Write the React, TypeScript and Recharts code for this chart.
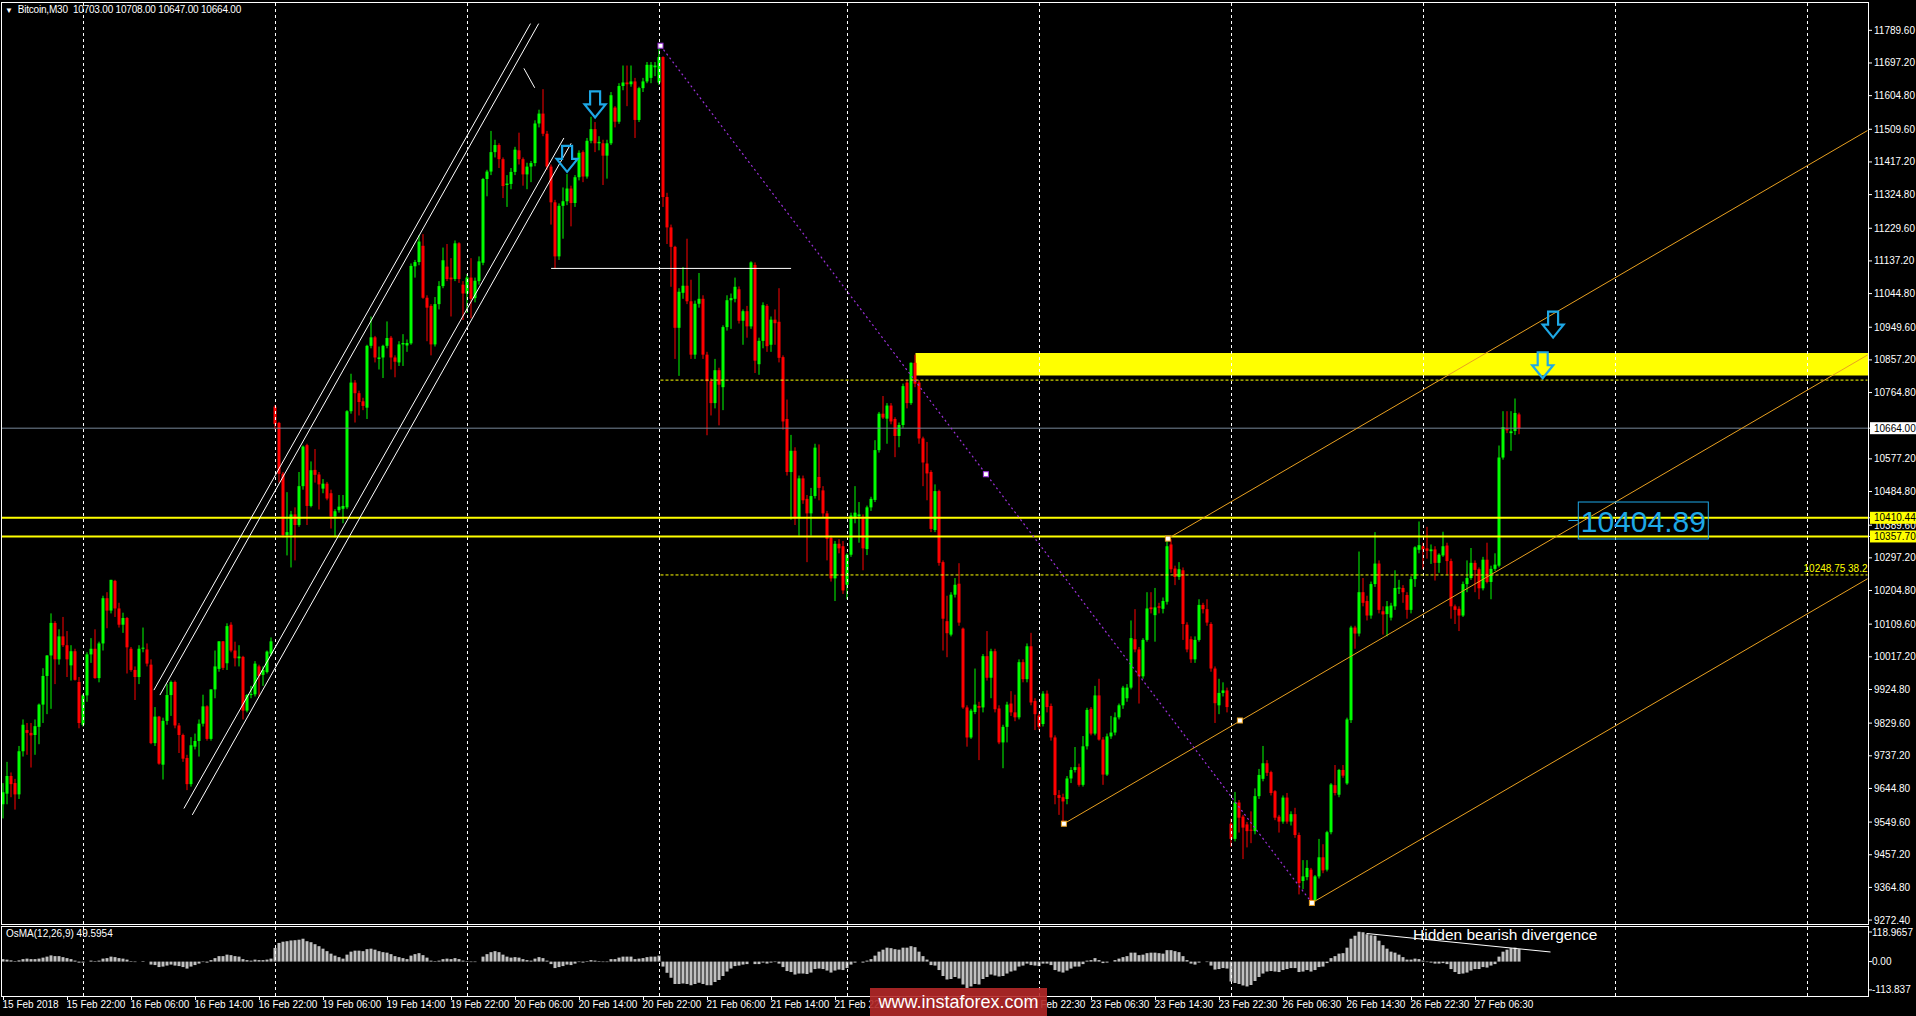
import React from 'react'
import {
  ComposedChart, Bar, XAxis, YAxis, ReferenceLine, ReferenceArea, ReferenceDot,
} from 'recharts'

// ─── Bitcoin M30 bars, 15 Feb 14:00 → 27 Feb 12:00 ─────────────────────────
const opens = [
  9600, 9630, 9680, 9660, 9628, 9750, 9810, 9802, 9796, 9819,
  9882, 9963, 10021, 10113, 10010, 10075, 10050, 9993, 10033, 9946,
  9825, 9908, 10024, 10040, 9957, 10055, 10183, 10148, 10232, 10154,
  10108, 10127, 10040, 9980, 9960, 10040, 10038, 9995, 9773, 9848,
  9712, 9836, 9909, 9946, 9823, 9796, 9731, 9657, 9763, 9779,
  9828, 9877, 9785, 9925, 9983, 10061, 9999, 10108, 10035, 10013,
  10017, 9865, 9909, 9911, 9990, 9966, 9974, 10026, 10725, 10679,
  10535, 10362, 10362, 10420, 10390, 10500, 10616, 10444, 10546, 10533,
  10493, 10507, 10480, 10414, 10432, 10436, 10440, 10712, 10793, 10763,
  10740, 10722, 10897, 10921, 10860, 10864, 10897, 10920, 10864, 10850,
  10901, 10898, 10904, 11122, 11134, 11180, 11033, 11010, 10901, 11015,
  11066, 11121, 11090, 11086, 11187, 11070, 11045, 11090, 11032, 11080,
  11132, 11369, 11390, 11445, 11465, 11425, 11352, 11355, 11389, 11450,
  11425, 11382, 11404, 11414, 11526, 11554, 11497, 11404, 11303, 11150,
  11293, 11306, 11342, 11301, 11374, 11445, 11376, 11477, 11510, 11470,
  11470, 11435, 11470, 11571, 11531, 11632, 11642, 11637, 11645, 11536,
  11626, 11645, 11655, 11685, 11642, 11714, 11318, 11232, 11177, 10948,
  11047, 11067, 11023, 10872, 11016, 11030, 10872, 10797, 10735, 10828,
  10780, 10950, 11026, 11030, 11057, 10968, 10995, 10952, 11126, 10845,
  10911, 11010, 10900, 10971, 10965, 10865, 10690, 10540, 10600, 10413,
  10522, 10464, 10423, 10472, 10526, 10488, 10423, 10354, 10239, 10337,
  10330, 10221, 10306, 10410, 10415, 10413, 10322, 10440, 10461, 10602,
  10705, 10691, 10728, 10690, 10642, 10673, 10793, 10735, 10849, 10793,
  10635, 10564, 10540, 10376, 10486, 10285, 10118, 10080, 10193, 10224,
  10097, 9874, 9789, 9861, 9878, 9874, 10019, 9958, 10033, 9871,
  9775, 9819, 9885, 9860, 9846, 10002, 9954, 10047, 9892, 9851,
  9827, 9913, 9878, 9789, 9626, 9620, 9615, 9673, 9697, 9705,
  9655, 9764, 9870, 9800, 9908, 9783, 9684, 9792, 9803, 9846,
  9880, 9900, 9930, 10067, 10038, 9962, 10065, 10157, 10135, 10160,
  10153, 10173, 10335, 10267, 10243, 10262, 10108, 10067, 10010, 10065,
  10164, 10152, 10110, 9984, 9880, 9915, 9922, 9545, 9502, 9605,
  9565, 9543, 9528, 9524, 9623, 9672, 9716, 9691, 9637, 9565,
  9551, 9619, 9551, 9572, 9513, 9383, 9394, 9415, 9329, 9396,
  9450, 9415, 9521, 9654, 9627, 9697, 9659, 9838, 10100, 10083,
  10200, 10175, 10134, 10223, 10281, 10146, 10138, 10128, 10160, 10210,
  10212, 10192, 10150, 10237, 10320, 10330, 10324, 10316, 10321, 10283,
  10304, 10332, 10288, 10160, 10153, 10134, 10223, 10240, 10283, 10265,
  10211, 10292, 10229, 10266, 10275, 10581, 10662, 10650, 10656, 10703,
]
const highs = [
  9660, 9720, 9690, 9672, 9765, 9840, 9830, 9830, 9840, 9885,
  9985, 10022, 10140, 10118, 10095, 10130, 10090, 10050, 10040, 9960,
  9912, 10030, 10070, 10095, 10060, 10190, 10200, 10235, 10235, 10170,
  10142, 10130, 10045, 9990, 10050, 10100, 10055, 10010, 9875, 9850,
  9845, 9940, 9950, 9950, 9830, 9800, 9740, 9790, 9800, 9840,
  9910, 9880, 9925, 10035, 10061, 10062, 10112, 10115, 10060, 10050,
  10020, 9912, 9935, 10005, 9995, 9990, 10035, 10072, 10730, 10682,
  10540, 10483, 10430, 10440, 10540, 10615, 10620, 10570, 10605, 10540,
  10520, 10512, 10490, 10435, 10475, 10475, 10715, 10818, 10800, 10770,
  10750, 10900, 10980, 10925, 10895, 10900, 10966, 10925, 10870, 10910,
  10930, 10915, 11130, 11140, 11210, 11213, 11040, 11015, 11035, 11080,
  11175, 11185, 11145, 11195, 11190, 11080, 11100, 11145, 11090, 11150,
  11372, 11395, 11505, 11480, 11470, 11430, 11380, 11400, 11460, 11500,
  11430, 11415, 11420, 11535, 11565, 11623, 11505, 11410, 11310, 11300,
  11345, 11383, 11350, 11380, 11450, 11450, 11485, 11545, 11530, 11490,
  11480, 11480, 11615, 11575, 11640, 11690, 11690, 11690, 11655, 11630,
  11655, 11700, 11700, 11700, 11746, 11716, 11330, 11240, 11180, 11060,
  11120, 11200, 11084, 11025, 11103, 11040, 10880, 10805, 10860, 10835,
  10955, 11040, 11045, 11090, 11065, 11000, 11010, 11136, 11133, 10920,
  11020, 11015, 10980, 11000, 11060, 10870, 10745, 10645, 10610, 10530,
  10530, 10475, 10495, 10620, 10618, 10500, 10430, 10360, 10345, 10350,
  10345, 10310, 10425, 10500, 10455, 10420, 10445, 10470, 10630, 10710,
  10755, 10735, 10735, 10695, 10680, 10790, 10800, 10850, 10872, 10800,
  10640, 10625, 10545, 10505, 10490, 10290, 10190, 10200, 10240, 10282,
  10100, 9880, 9870, 9984, 9890, 10025, 10090, 10040, 10040, 9880,
  9825, 9890, 9920, 9910, 10010, 10010, 10055, 10085, 9900, 9860,
  9920, 9922, 9885, 9795, 9640, 9630, 9680, 9705, 9762, 9715,
  9793, 9873, 9875, 9935, 9955, 9790, 9800, 9850, 9860, 9885,
  9935, 9940, 10120, 10152, 10045, 10070, 10200, 10200, 10212, 10170,
  10185, 10352, 10350, 10275, 10285, 10270, 10115, 10075, 10075, 10180,
  10170, 10180, 10115, 9990, 9955, 9945, 9930, 9560, 9635, 9612,
  9570, 9550, 9580, 9645, 9700, 9765, 9725, 9695, 9640, 9570,
  9625, 9632, 9580, 9590, 9520, 9442, 9442, 9420, 9400, 9502,
  9487, 9525, 9660, 9711, 9700, 9711, 9845, 10105, 10105, 10315,
  10240, 10190, 10230, 10370, 10290, 10160, 10175, 10170, 10262, 10235,
  10220, 10200, 10245, 10330, 10400, 10340, 10385, 10335, 10330, 10310,
  10371, 10340, 10295, 10165, 10160, 10230, 10290, 10325, 10290, 10270,
  10300, 10340, 10275, 10310, 10615, 10712, 10712, 10712, 10748, 10708,
]
const lows = [
  9560, 9600, 9620, 9585, 9615, 9735, 9740, 9704, 9740, 9770,
  9830, 9855, 9870, 9940, 9995, 10045, 9960, 9950, 9950, 9815,
  9820, 9890, 10000, 9955, 9945, 10035, 10098, 10140, 10130, 10100,
  10085, 9970, 9975, 9895, 9940, 10030, 9990, 9770, 9765, 9712,
  9670, 9825, 9850, 9815, 9745, 9720, 9640, 9650, 9755, 9735,
  9820, 9780, 9780, 9900, 9975, 9980, 9980, 10030, 9990, 9990,
  9840, 9860, 9900, 9905, 9905, 9935, 9970, 10020, 10660, 10510,
  10355, 10304, 10270, 10290, 10385, 10490, 10390, 10440, 10510, 10434,
  10480, 10460, 10380, 10355, 10425, 10395, 10435, 10705, 10680, 10700,
  10715, 10690, 10890, 10850, 10830, 10806, 10890, 10830, 10808, 10840,
  10840, 10880, 10900, 11090, 11125, 11030, 10910, 10870, 10895, 11000,
  11060, 11080, 10980, 11080, 11075, 10970, 10990, 10975, 11020, 11070,
  11125, 11320, 11380, 11430, 11400, 11315, 11290, 11340, 11380, 11410,
  11350, 11340, 11360, 11405, 11515, 11490, 11395, 11240, 11115, 11140,
  11200, 11295, 11235, 11290, 11365, 11360, 11370, 11470, 11445, 11450,
  11352, 11370, 11465, 11515, 11525, 11620, 11575, 11630, 11485, 11530,
  11615, 11640, 11640, 11660, 11635, 11290, 11185, 11064, 10860, 10812,
  11030, 11015, 10860, 10860, 11005, 10860, 10644, 10700, 10720, 10672,
  10715, 10940, 10945, 11020, 10960, 10900, 10920, 10945, 10820, 10815,
  10890, 10880, 10880, 10900, 10850, 10660, 10530, 10405, 10390, 10360,
  10450, 10285, 10360, 10465, 10460, 10410, 10290, 10230, 10175, 10310,
  10195, 10180, 10300, 10395, 10340, 10262, 10305, 10430, 10455, 10595,
  10690, 10620, 10675, 10582, 10610, 10665, 10720, 10730, 10780, 10620,
  10500, 10460, 10370, 10370, 10275, 10035, 10016, 10075, 10185, 10105,
  9870, 9763, 9785, 9855, 9725, 9860, 9950, 9900, 9860, 9770,
  9702, 9775, 9850, 9835, 9840, 9945, 9945, 9880, 9810, 9810,
  9820, 9860, 9780, 9600, 9570, 9545, 9600, 9660, 9690, 9650,
  9650, 9755, 9795, 9795, 9780, 9655, 9680, 9785, 9795, 9840,
  9870, 9890, 9925, 10030, 9885, 9955, 10060, 10140, 10060, 10140,
  10140, 10165, 10255, 10220, 10235, 10065, 10030, 10000, 10000, 10060,
  10140, 10105, 9975, 9830, 9855, 9905, 9860, 9480, 9495, 9520,
  9445, 9478, 9490, 9515, 9615, 9665, 9680, 9625, 9555, 9520,
  9545, 9545, 9540, 9505, 9345, 9360, 9385, 9321, 9325, 9390,
  9405, 9410, 9515, 9625, 9620, 9675, 9655, 9830, 10040, 10075,
  10160, 10120, 10125, 10215, 10140, 10080, 10075, 10120, 10150, 10195,
  10170, 10125, 10140, 10215, 10310, 10265, 10295, 10280, 10233, 10255,
  10300, 10250, 10125, 10110, 10090, 10130, 10200, 10235, 10200, 10180,
  10205, 10225, 10180, 10260, 10270, 10575, 10650, 10600, 10645, 10647,
]
const closes = [
  9634, 9680, 9657, 9628, 9750, 9825, 9802, 9795, 9821, 9882,
  9963, 10021, 10113, 10010, 10075, 10050, 10010, 10033, 9952, 9830,
  9908, 10024, 10040, 9957, 10055, 10183, 10148, 10235, 10154, 10108,
  10127, 10044, 9980, 9960, 10040, 10043, 9998, 9773, 9848, 9715,
  9836, 9909, 9946, 9823, 9796, 9729, 9657, 9767, 9779, 9828,
  9877, 9785, 9925, 9990, 10061, 9986, 10104, 10035, 10013, 10018,
  9865, 9909, 9912, 9998, 9963, 9980, 10032, 10061, 10676, 10535,
  10362, 10370, 10420, 10390, 10500, 10612, 10444, 10545, 10532, 10505,
  10507, 10465, 10414, 10429, 10442, 10444, 10712, 10793, 10763, 10738,
  10727, 10897, 10921, 10864, 10864, 10897, 10919, 10864, 10852, 10901,
  10905, 10905, 11123, 11134, 11192, 11033, 11005, 10901, 11015, 11066,
  11139, 11086, 11085, 11187, 11086, 11045, 11090, 11030, 11081, 11136,
  11369, 11390, 11445, 11465, 11425, 11349, 11356, 11389, 11452, 11425,
  11382, 11404, 11414, 11526, 11554, 11497, 11404, 11303, 11150, 11293,
  11306, 11342, 11301, 11374, 11443, 11376, 11477, 11510, 11470, 11474,
  11435, 11470, 11606, 11531, 11632, 11642, 11637, 11645, 11536, 11626,
  11645, 11692, 11692, 11690, 11714, 11318, 11232, 11177, 10948, 11050,
  11067, 11023, 10872, 11016, 11030, 10872, 10797, 10735, 10828, 10787,
  10950, 11026, 11032, 11064, 10968, 10995, 10952, 11133, 10855, 10911,
  11012, 10896, 10971, 10961, 10863, 10683, 10540, 10600, 10413, 10522,
  10460, 10423, 10472, 10609, 10495, 10423, 10351, 10239, 10337, 10324,
  10205, 10306, 10417, 10425, 10420, 10324, 10440, 10464, 10602, 10705,
  10694, 10728, 10683, 10642, 10673, 10783, 10735, 10849, 10790, 10635,
  10567, 10536, 10379, 10486, 10283, 10125, 10084, 10193, 10221, 10114,
  9874, 9789, 9865, 9882, 9873, 10019, 9958, 10033, 9869, 9775,
  9819, 9882, 9860, 9846, 10002, 9954, 10047, 9888, 9855, 9819,
  9913, 9875, 9789, 9626, 9618, 9608, 9673, 9697, 9705, 9655,
  9764, 9867, 9800, 9908, 9783, 9684, 9792, 9803, 9846, 9880,
  9930, 9930, 10070, 10038, 9962, 10065, 10154, 10152, 10157, 10156,
  10175, 10330, 10265, 10243, 10265, 10110, 10038, 10010, 10065, 10164,
  10152, 10114, 9984, 9886, 9915, 9922, 9875, 9502, 9605, 9562,
  9534, 9524, 9526, 9623, 9683, 9716, 9689, 9632, 9562, 9551,
  9619, 9551, 9572, 9513, 9377, 9396, 9420, 9329, 9396, 9450,
  9413, 9521, 9656, 9632, 9697, 9681, 9840, 10100, 10083, 10200,
  10170, 10134, 10223, 10281, 10150, 10137, 10160, 10162, 10212, 10213,
  10200, 10150, 10237, 10327, 10333, 10321, 10317, 10321, 10283, 10306,
  10330, 10288, 10160, 10150, 10134, 10223, 10240, 10283, 10263, 10211,
  10292, 10229, 10266, 10278, 10581, 10667, 10658, 10655, 10707, 10664,
]
// OsMA(12,26,9) histogram, one value per bar
const osmaValues = [
  10, 8, 5, 2, 5, 10, 12, 10, 10, 12,
  16, 20, 25, 22, 22, 18, 14, 10, 4, -4,
  -4, 0, 4, 2, 4, 12, 14, 20, 18, 14,
  12, 8, 2, -2, 0, 2, 0, -12, -14, -22,
  -20, -16, -12, -16, -18, -22, -28, -20, -14, -8,
  -2, -4, 6, 14, 22, 22, 28, 26, 22, 20,
  10, 6, 4, 8, 6, 6, 8, 12, 55, 75,
  80, 82, 85, 86, 88, 92, 82, 78, 70, 62,
  52, 42, 32, 24, 18, 12, 28, 40, 44, 44,
  42, 50, 52, 48, 42, 38, 36, 30, 22, 18,
  14, 10, 24, 30, 34, 26, 16, 4, 2, 4,
  10, 12, 10, 14, 10, 4, 2, -2, -2, 0,
  20, 30, 38, 42, 38, 28, 20, 16, 18, 16,
  10, 6, 4, 12, 18, 14, 4, -10, -26, -22,
  -18, -12, -14, -8, -2, -4, 2, 6, 4, 2,
  -2, -2, 10, 10, 16, 20, 20, 20, 10, 12,
  14, 18, 20, 20, 24, -20, -45, -65, -90, -90,
  -88, -90, -95, -90, -85, -90, -95, -95, -82, -74,
  -58, -40, -28, -18, -16, -12, -10, 0, -10, -10,
  -4, -8, -4, -2, -8, -22, -38, -42, -52, -48,
  -48, -50, -44, -30, -28, -30, -36, -44, -36, -32,
  -34, -26, -12, -4, 0, -4, 4, 10, 24, 40,
  48, 56, 54, 50, 48, 56, 56, 62, 58, 40,
  22, 8, -14, -16, -34, -58, -72, -70, -62, -68,
  -92, -106, -100, -90, -92, -70, -62, -52, -56, -60,
  -58, -48, -40, -36, -20, -16, -8, -14, -16, -18,
  -8, -8, -14, -34, -40, -44, -36, -28, -20, -20,
  -10, 4, 6, 14, 6, -6, -4, 0, 6, 12,
  18, 22, 36, 36, 26, 28, 34, 36, 36, 34,
  32, 46, 46, 42, 38, 22, 6, -8, -12, -4,
  0, -2, -16, -32, -30, -26, -28, -80, -86, -90,
  -96, -100, -94, -78, -62, -48, -40, -38, -40, -42,
  -34, -30, -26, -26, -42, -40, -34, -40, -34, -22,
  -20, -6, 14, 22, 32, 34, 56, 92, 104, 120,
  118, 110, 106, 104, 84, 66, 52, 40, 36, 28,
  18, 8, 8, 12, 10, 4, -2, -4, -8, -8,
  -6, -10, -30, -42, -50, -48, -44, -36, -30, -30,
  -22, -24, -16, -10, 20, 40, 48, 54, 56, 50,
]

const dateTicks = [0, 16, 32, 48, 64, 80, 96, 112, 128, 144, 160, 176, 192, 208, 224, 240, 256, 272, 288, 304, 320, 336, 352, 368]
// the two labels under the watermark are not readable in the picture, so left blank
const dateLabels = [
  '15 Feb 2018', '15 Feb 22:00', '16 Feb 06:00', '16 Feb 14:00', '16 Feb 22:00', '19 Feb 06:00',
  '19 Feb 14:00', '19 Feb 22:00', '20 Feb 06:00', '20 Feb 14:00', '20 Feb 22:00', '21 Feb 06:00',
  '21 Feb 14:00', '21 Feb 22:30', '', '', '22 Feb 22:30', '23 Feb 06:30',
  '23 Feb 14:30', '23 Feb 22:30', '26 Feb 06:30', '26 Feb 14:30', '26 Feb 22:30', '27 Feb 06:30',
]
// 10389.60 first so the two yellow boxes are painted over it
const priceTicks = [
  10389.6, 11789.6, 11697.2, 11604.8, 11509.6, 11417.2, 11324.8, 11229.6, 11137.2, 11044.8,
  10949.6, 10857.2, 10764.8, 10577.2, 10484.8, 10297.2, 10204.8, 10109.6, 10017.2,
  9924.8, 9829.6, 9737.2, 9644.8, 9549.6, 9457.2, 9364.8, 9272.4, 10664, 10410.44, 10357.7,
]
const osmaTicks = [118.9657, 0, -113.837]
const osmaTickLabels = ['118.9657', '0.00', '-113.837']
const gridBars = [20, 68, 116, 164, 211, 259, 307, 355, 403, 451]

// drawn objects, in (bar, price)
const channelLines = [
  [[37.6, 9923], [131.75, 11808.6]],
  [[39.1, 9909], [133.8, 11808.6]],
  [[45.1, 9588], [140.1, 11485]],
  [[47.2, 9570], [141.9, 11470]],
  [[130.1, 11682], [132.8, 11627]],
  [[136.9, 11116], [196.9, 11116]],
]
const pitchforkLines = [
  [[291.1, 10351.6], [466, 11506]],
  [[265.1, 9545], [466, 10871]],
  [[327.1, 9321], [466, 10238]],
]
const pitchforkPoints = [[265.1, 9545], [291.1, 10351.6], [309.1, 9837], [327.1, 9321]]
const trendLine = [[164.25, 11746], [327.1, 9321]]
const trendPoints = [[164.25, 11746], [245.6, 10533.8]]
const arrows = [[147.9, 11580], [140.9, 11426], [387.4, 10957], [384.8, 10842]]
const fibLevels = [10800, 10248.75]
const zoneBox = { x1: 228, y1: 10813, y2: 10877 }
const levelLines = [10410.44, 10357.7]
const bidPrice = 10664
const bigLabel = { bar: 393.7, price: 10402.8, text: '10404.89' }
const divergence = [[340.75, 113], [386.75, 38.6]]

const X_DOMAIN: [number, number] = [-0.375, 466.125]
const Y_DOMAIN: [number, number] = [9261.3, 11869.7]
const OSMA_DOMAIN: [number, number] = [-138.3, 139.1]

const BULL = '#00ff00'
const BEAR = '#ff0000'
const ORANGE = '#e8a020'
const CYAN = '#1ea8e6'
const FONT = '"Liberation Sans", Arial, sans-serif'

const rows = opens.map((o, i) => ({
  i, o, h: highs[i], l: lows[i], c: closes[i],
  range: [lows[i], highs[i]],
  osma: osmaValues[i],
}))

// ─── Candle shape ────────────────────────────────────────────────────────────
function Candle(props: any) {
  const { x, y, width, height, payload } = props
  if (!payload) return null
  const { o, h, l, c } = payload
  const top = Math.min(y, y + height)
  const span = Math.abs(height)
  const k = h > l ? span / (h - l) : 0
  const color = c >= o ? BULL : BEAR
  const bodyTop = top + (h - Math.max(o, c)) * k
  const bodyH = Math.max(1, Math.abs(o - c) * k)
  const cx = x + width / 2
  return (
    <g>
      <line x1={cx} x2={cx} y1={top} y2={top + span} stroke={color} strokeWidth={1} />
      <rect x={x} y={bodyTop} width={width} height={bodyH} fill={color} />
    </g>
  )
}

function PriceTick({ x, y, payload }: any) {
  const v = payload.value
  const txt = Number(v).toFixed(2)
  if (v === bidPrice || levelLines.includes(v)) {
    return (
      <g>
        <rect x={x - 4} y={y - 6} width={48} height={12} fill={v === bidPrice ? '#ffffff' : '#ffff00'} />
        <text x={x} y={y} dy="0.35em" fill="#000" fontSize={10} fontFamily={FONT}>{txt}</text>
      </g>
    )
  }
  return <text x={x} y={y} dy="0.35em" fill="#fff" fontSize={10} fontFamily={FONT}>{txt}</text>
}

function OsmaTick({ x, y, payload }: any) {
  const k = osmaTicks.indexOf(payload.value)
  return <text x={x} y={y} dy="0.35em" fill="#fff" fontSize={10} fontFamily={FONT}>{osmaTickLabels[k]}</text>
}

function DateTick({ x, y, payload }: any) {
  const k = dateTicks.indexOf(payload.value)
  return (
    <g>
      <line x1={x} x2={x} y1={y} y2={y + 4} stroke="#fff" />
      {dateLabels[k] ? (
        <text x={x - 1} y={y + 12} fill="#fff" fontSize={10} fontFamily={FONT}>{dateLabels[k]}</text>
      ) : null}
    </g>
  )
}

const square = (stroke: string) => (p: any) => (
  <rect x={p.cx - 2.5} y={p.cy - 2.5} width={5} height={5} fill="#fff" stroke={stroke} strokeWidth={1} />
)

const arrowShape = (p: any) => {
  const { cx, cy } = p
  const d = `M${cx - 5},${cy - 13} h10 v13 h5.5 L${cx},${cy + 13} L${cx - 10.5},${cy} h5.5 Z`
  return <path d={d} fill="none" stroke={CYAN} strokeWidth={2.2} strokeLinejoin="miter" />
}

const bigLabelShape = (p: any) => {
  const { cx, cy } = p
  return (
    <g>
      <line x1={cx - 10} x2={cx} y1={cy} y2={cy} stroke={CYAN} />
      <rect x={cx} y={cy - 18.5} width={130} height={37} fill="none" stroke={CYAN} />
      <text x={cx + 65} y={cy + 11} textAnchor="middle" fill={CYAN} fontSize={30} fontFamily={FONT}>{bigLabel.text}</text>
    </g>
  )
}

const fibLabelShape = (p: any) => (
  <text x={p.cx} y={p.cy - 3} textAnchor="end" fill="#ffff00" fontSize={10} fontFamily={FONT}>10248.75 38.2</text>
)

export default function App() {
  return (
    <div style={{ position: 'fixed', left: 0, top: 0, width: 1916, height: 1016, background: '#000', overflow: 'hidden', fontFamily: FONT }}>
      {/* main price window */}
      <div style={{ position: 'absolute', left: 0, top: 0 }}>
        <ComposedChart width={1916} height={926} data={rows} margin={{ top: 2, right: 0, bottom: 2, left: 2 }}>
          <XAxis type="number" dataKey="i" domain={X_DOMAIN} allowDataOverflow hide />
          <YAxis
            orientation="right" domain={Y_DOMAIN} allowDataOverflow width={48}
            ticks={priceTicks} interval={0} tick={<PriceTick />}
            tickLine={{ stroke: '#fff' }} tickSize={4} tickMargin={2} axisLine={false}
          />
          {gridBars.map(b => (
            <ReferenceLine key={'g' + b} x={b} stroke="#ffffff" strokeDasharray="3 3" />
          ))}
          <ReferenceArea x1={zoneBox.x1} x2={X_DOMAIN[1]} y1={zoneBox.y1} y2={zoneBox.y2} fill="#ffff00" fillOpacity={1} stroke="none" ifOverflow="hidden" />
          <ReferenceLine y={bidPrice} stroke="#778899" strokeWidth={1} />
          {fibLevels.map(v => (
            <ReferenceLine key={'f' + v} segment={[{ x: trendLine[0][0], y: v }, { x: 466, y: v }]} stroke="#ffff00" strokeDasharray="3 2" />
          ))}
          <Bar dataKey="range" shape={<Candle />} barSize={3} isAnimationActive={false} />
          {levelLines.map(v => (
            <ReferenceLine key={'l' + v} y={v} stroke="#ffff00" strokeWidth={2} />
          ))}
          {channelLines.map((s, k) => (
            <ReferenceLine key={'c' + k} segment={[{ x: s[0][0], y: s[0][1] }, { x: s[1][0], y: s[1][1] }]} stroke="#ffffff" strokeWidth={1} />
          ))}
          {pitchforkLines.map((s, k) => (
            <ReferenceLine key={'p' + k} segment={[{ x: s[0][0], y: s[0][1] }, { x: s[1][0], y: s[1][1] }]} stroke={ORANGE} strokeWidth={1} />
          ))}
          <ReferenceLine segment={[{ x: trendLine[0][0], y: trendLine[0][1] }, { x: trendLine[1][0], y: trendLine[1][1] }]} stroke="#9b30d9" strokeWidth={1.2} strokeDasharray="2 3" />
          {trendPoints.map((pt, k) => (
            <ReferenceDot key={'tp' + k} x={pt[0]} y={pt[1]} shape={square('#9b30d9')} />
          ))}
          {pitchforkPoints.map((pt, k) => (
            <ReferenceDot key={'pp' + k} x={pt[0]} y={pt[1]} shape={square(ORANGE)} />
          ))}
          {arrows.map((pt, k) => (
            <ReferenceDot key={'a' + k} x={pt[0]} y={pt[1]} shape={arrowShape} />
          ))}
          <ReferenceDot x={bigLabel.bar} y={bigLabel.price} shape={bigLabelShape} />
          <ReferenceDot x={466} y={fibLevels[1]} shape={fibLabelShape} />
        </ComposedChart>
      </div>

      {/* OsMA window */}
      <div style={{ position: 'absolute', left: 0, top: 926 }}>
        <ComposedChart width={1916} height={90} data={rows} margin={{ top: 1, right: 0, bottom: 0, left: 2 }}>
          <XAxis
            type="number" dataKey="i" domain={X_DOMAIN} allowDataOverflow
            ticks={dateTicks} interval={0} tick={<DateTick />}
            tickLine={false} axisLine={false} height={20} tickSize={0} tickMargin={0}
          />
          <YAxis
            orientation="right" domain={OSMA_DOMAIN} allowDataOverflow width={48}
            ticks={osmaTicks} interval={0} tick={<OsmaTick />}
            tickLine={{ stroke: '#fff' }} tickSize={4} tickMargin={0} axisLine={false}
          />
          {gridBars.map(b => (
            <ReferenceLine key={'og' + b} x={b} stroke="#ffffff" strokeDasharray="3 3" />
          ))}
          <Bar dataKey="osma" fill="#c0c0c0" barSize={3} isAnimationActive={false} />
          <ReferenceLine segment={[{ x: divergence[0][0], y: divergence[0][1] }, { x: divergence[1][0], y: divergence[1][1] }]} stroke="#ffffff" strokeWidth={1} />
        </ComposedChart>
      </div>

      {/* window frames */}
      <div style={{ position: 'absolute', left: 1, top: 2, width: 1868, height: 923, border: '1px solid #fff', boxSizing: 'border-box', pointerEvents: 'none' }} />
      <div style={{ position: 'absolute', left: 1, top: 926, width: 1868, height: 71, border: '1px solid #fff', boxSizing: 'border-box', pointerEvents: 'none' }} />

      {/* captions */}
      <div style={{ position: 'absolute', left: 5, top: 4, color: '#fff', fontSize: 10, whiteSpace: 'pre', letterSpacing: -0.2 }}>
        <span style={{ fontSize: 8, marginRight: 5 }}>▼</span>Bitcoin,M30  10703.00 10708.00 10647.00 10664.00
      </div>
      <div style={{ position: 'absolute', left: 6, top: 928, color: '#fff', fontSize: 10, whiteSpace: 'pre' }}>
        OsMA(12,26,9) 49.5954
      </div>
      <div style={{ position: 'absolute', left: 1413, top: 926, color: '#fff', fontSize: 15.5, whiteSpace: 'pre' }}>
        Hidden bearish divergence
      </div>
      <div style={{
        position: 'absolute', left: 870, top: 988, width: 177, height: 28, background: 'rgba(180,40,40,0.9)',
        color: '#fff', fontSize: 18, lineHeight: '28px', textAlign: 'center',
      }}>
        www.instaforex.com
      </div>
    </div>
  )
}
